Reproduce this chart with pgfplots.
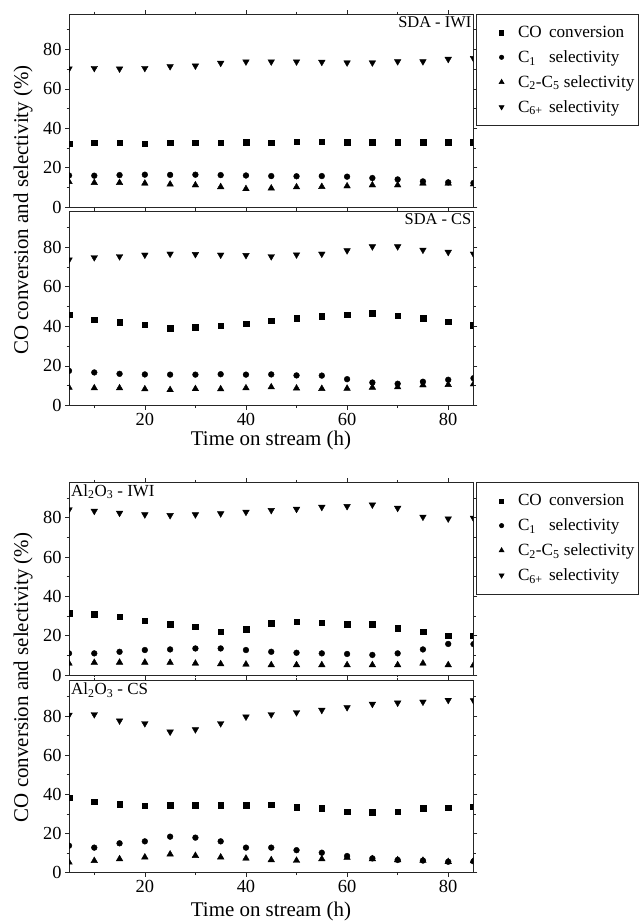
\documentclass[border=0pt]{standalone}
\usepackage{fontspec}
\setmainfont{Liberation Serif}
\usepackage{pgfplots}
\usepackage{pgfplotstable}
\pgfplotsset{compat=1.18}

% time on stream (h), CO conversion, C1, C2-C5, C6+ selectivity (%)
\pgfplotstableread{
t  co   c1   c25  c6
5  32.2 16.0 12.8 70.2
10 32.7 15.9 12.3 70.5
15 32.7 16.2 12.3 70.2
20 32.2 16.4 12.0 70.5
25 32.7 16.3 11.5 71.4
30 32.7 16.4 11.1 71.7
35 32.7 16.2 10.2 73.1
40 32.8 16.0 9.2  73.8
45 32.7 15.7 9.5  73.8
50 33.2 15.6 10.1 73.8
55 33.1 15.7 10.3 73.6
60 33.0 15.4 10.6 73.3
65 33.0 14.7 11.1 73.3
70 33.0 14.0 11.1 73.9
75 33.0 13.0 12.0 73.9
80 33.0 12.5 12.0 75.1
85 33.0 12.2 11.6 75.5
}\sdaiwi

\pgfplotstableread{
t  co   c1   c25  c6
5  45.8 17.5 9.1  73.6
10 43.3 16.7 8.8  74.8
15 42.1 16.0 8.8  75.3
20 40.8 15.7 8.3  76.1
25 38.9 15.6 7.9  76.6
30 39.7 15.6 8.4  76.4
35 40.3 15.8 8.3  76.1
40 41.3 15.6 8.8  75.9
45 42.9 15.7 9.3  75.3
50 44.1 15.2 8.7  76.2
55 45.0 15.1 8.5  76.6
60 45.8 13.3 8.6  78.3
65 46.7 11.6 9.1  80.3
70 45.3 11.0 9.3  80.3
75 44.0 12.0 10.3 78.6
80 42.3 13.0 10.5 77.5
85 40.6 13.8 10.8 76.6
}\sdacs

\pgfplotstableread{
t  co   c1   c25 c6
5  31.3 11.0 5.9 84.1
10 31.0 11.0 6.3 83.4
15 29.6 11.8 6.4 82.4
20 27.6 12.7 6.4 81.6
25 25.9 13.0 6.3 81.2
30 24.5 13.5 5.9 81.6
35 22.0 13.5 5.6 82.1
40 23.4 12.7 5.4 82.9
45 26.2 11.8 5.1 83.8
50 27.1 11.3 5.1 84.4
55 26.6 11.0 5.1 85.4
60 25.9 10.7 5.1 85.8
65 25.7 10.2 5.1 86.6
70 23.7 11.0 5.1 84.9
75 22.0 13.0 5.9 80.4
80 20.0 15.8 5.1 79.5
85 20.0 15.7 5.0 79.8
}\aliwi

\pgfplotstableread{
t  co   c1   c25 c6
5  38.3 13.8 5.3 80.5
10 36.2 12.8 6.1 80.8
15 35.0 15.0 7.0 77.6
20 34.2 16.0 7.9 76.2
25 34.5 18.4 9.4 71.9
30 34.5 17.9 8.7 73.1
35 34.5 16.0 7.9 76.2
40 34.5 12.8 7.3 79.6
45 34.7 12.8 6.5 80.8
50 33.3 11.5 6.2 81.8
55 32.8 10.2 7.0 83.0
60 31.1 8.5  7.7 84.4
65 31.0 7.3  7.0 86.1
70 31.1 6.5  6.5 86.7
75 32.8 6.2  6.2 87.2
80 33.1 5.6  5.6 88.1
85 33.7 5.8  6.0 87.9
}\alcs

\pgfplotsset{
  panel/.style={
    scale only axis, anchor=north west, width=404.5bp,
    xmin=5, xmax=85, ymin=0, ymax=98,
    xtick={20,40,60,80}, minor xtick={10,30,50,70},
    ytick={0,20,40,60,80}, minor ytick={10,30,50,70,90},
    tick align=outside, major tick length=4bp, minor tick length=2.5bp,
    axis line style={line width=0.8bp, black!85},
    every tick/.style={line width=0.6bp, black!85},
    tick label style={font=\fontsize{18.5}{20}\selectfont},
    /pgf/number format/assume math mode=true,
    clip marker paths=true,
    legend cell align=left,
    legend style={at={(rel axis cs:1,1)}, anchor=north west, xshift=2.5bp,
      draw=black!85, line width=0.6bp, fill=white,
      font=\fontsize{17.2}{19}\selectfont,
      inner xsep=2bp, inner ysep=10bp, row sep=7.5bp,
      /tikz/every odd column/.append style={column sep=12bp}},
    legend image code/.code={%
      \path (0bp,0bp) (25bp,0bp);
      \draw[##1,/tikz/every mark/.append style={scale=0.75}]
        plot coordinates {(23bp,0bp)};},
  },
  conv/.style={only marks, mark=square*, mark size=2.8bp, black},
  sel1/.style={only marks, mark=*, mark size=2.9bp, black},
  sel25/.style={only marks, mark=triangle*, mark size=3.8bp, black},
  sel6/.style={only marks, mark=triangle*, mark size=3.8bp, black,
    mark options={rotate=180}},
}

\newcommand{\legendentries}{%
  \legend{\makebox[31bp][l]{CO}conversion,
          \makebox[31bp][l]{C\textsubscript{1}}selectivity,
          C\textsubscript{2}-C\textsubscript{5} selectivity,
          \makebox[31bp][l]{C\textsubscript{6+}}selectivity}}

\begin{document}
\begin{tikzpicture}
\useasboundingbox (0,0) rectangle (639bp,-924bp);

% upper figure: SDA support
\begin{axis}[panel, at={(69bp,-14bp)}, height=193bp, xticklabels={}]
  \addplot[conv]  table[x=t, y=co]  {\sdaiwi};
  \addplot[sel1]  table[x=t, y=c1]  {\sdaiwi};
  \addplot[sel25] table[x=t, y=c25] {\sdaiwi};
  \addplot[sel6]  table[x=t, y=c6]  {\sdaiwi};
  \legendentries
  \node[anchor=north east, font=\fontsize{16.5}{18}\selectfont, inner sep=2bp]
    at (rel axis cs:1,1) {SDA - IWI};
\end{axis}

\begin{axis}[panel, at={(69bp,-211.5bp)}, height=194bp]
  \addplot[conv]  table[x=t, y=co]  {\sdacs};
  \addplot[sel1]  table[x=t, y=c1]  {\sdacs};
  \addplot[sel25] table[x=t, y=c25] {\sdacs};
  \addplot[sel6]  table[x=t, y=c6]  {\sdacs};
  \node[anchor=north east, font=\fontsize{16.5}{18}\selectfont, inner sep=2bp]
    at (rel axis cs:1,1) {SDA - CS};
\end{axis}

% lower figure: Al2O3 support
\begin{axis}[panel, at={(69bp,-482.3bp)}, height=192.7bp, xticklabels={}]
  \addplot[conv]  table[x=t, y=co]  {\aliwi};
  \addplot[sel1]  table[x=t, y=c1]  {\aliwi};
  \addplot[sel25] table[x=t, y=c25] {\aliwi};
  \addplot[sel6]  table[x=t, y=c6]  {\aliwi};
  \legendentries
  \node[anchor=north west, font=\fontsize{17}{18}\selectfont, inner sep=2bp]
    at (rel axis cs:0,1) {Al\textsubscript{2}O\textsubscript{3} - IWI};
\end{axis}

\begin{axis}[panel, at={(69bp,-680.7bp)}, height=192bp]
  \addplot[conv]  table[x=t, y=co]  {\alcs};
  \addplot[sel1]  table[x=t, y=c1]  {\alcs};
  \addplot[sel25] table[x=t, y=c25] {\alcs};
  \addplot[sel6]  table[x=t, y=c6]  {\alcs};
  \node[anchor=north west, font=\fontsize{17}{18}\selectfont, inner sep=2bp]
    at (rel axis cs:0,1) {Al\textsubscript{2}O\textsubscript{3} - CS};
\end{axis}

% shared axis titles
\begin{scope}[font=\fontsize{21}{24}\selectfont]
  \node[rotate=90] at (23bp,-210bp) {CO conversion and selectivity (\%)};
  \node at (271bp,-440bp) {Time on stream (h)};
  \node[rotate=90] at (23bp,-677.5bp) {CO conversion and selectivity (\%)};
  \node at (271bp,-911bp) {Time on stream (h)};
\end{scope}
\end{tikzpicture}
\end{document}
